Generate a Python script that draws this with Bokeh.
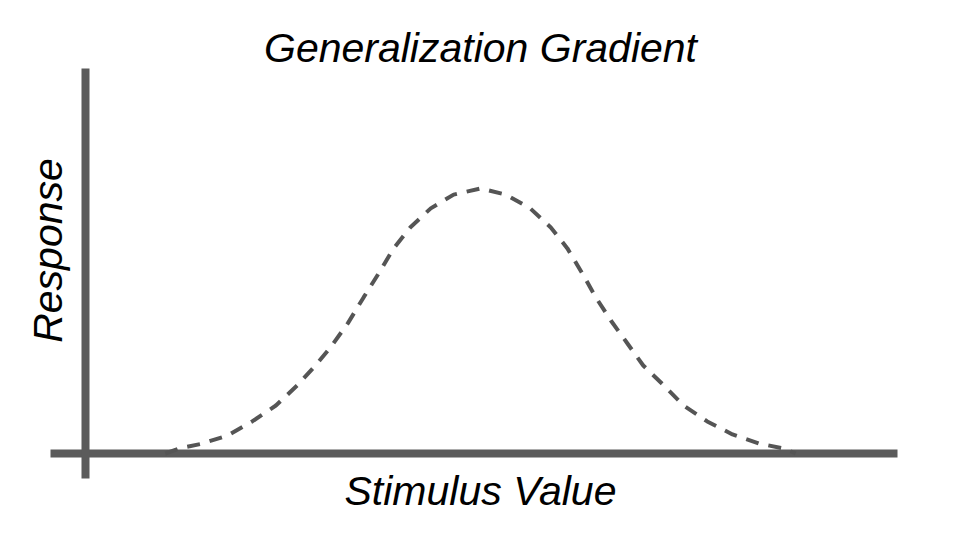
from bokeh.plotting import figure
from bokeh.models import Range1d, Label
from bokeh.embed import file_html
from bokeh.resources import INLINE

# Curve: stimulus value (0..100 scale) vs response (0..100)
stimulus = [10.1, 12.0, 14.6, 18.0, 21.1, 24.1, 26.8, 29.1, 31.0, 33.2, 35.2, 37.1,
            39.0, 41.1, 43.7, 46.6, 50.0, 53.2, 56.3, 58.9, 61.0, 62.9, 64.6, 66.5,
            68.6, 70.6, 73.2, 75.7, 78.7, 81.9, 85.2, 88.4, 89.9]
response = [0.0, 2.0, 3.6, 6.8, 12.1, 18.1, 25.7, 33.2, 40.0, 49.1, 58.9, 67.9,
            77.4, 85.3, 92.5, 97.7, 100.0, 97.7, 92.5, 85.3, 77.4, 67.9, 58.9, 50.2,
            41.5, 33.2, 25.7, 18.1, 12.1, 7.2, 3.8, 1.9, 0.0]

title_text = "Generalization Gradient"
x_label = "Stimulus Value"
y_label = "Response"

W, H = 960, 540
# pixel mapping: origin at (85, 453); stimulus 50 -> px 480; response 100 -> py 188
sx = 7.9
sy = 2.65
ox, oy = 85, 453

p = figure(width=W, height=H, output_backend="svg", toolbar_location=None,
           min_border=0, min_border_left=0, min_border_right=0,
           min_border_top=0, min_border_bottom=0,
           x_range=Range1d(-ox / sx, (W - ox) / sx),
           y_range=Range1d(-(H - oy) / sy, oy / sy))
p.axis.visible = False
p.grid.visible = False
p.outline_line_color = None
p.background_fill_color = "white"
p.border_fill_color = "white"

axis_color = "#5b5b5b"
# axis lines (cross at the origin)
p.segment(x0=[-(ox - 50) / sx], y0=[0], x1=[(897 - ox) / sx], y1=[0],
          line_color=axis_color, line_width=8)
p.segment(x0=[0], y0=[-(478 - oy) / sy], x1=[0], y1=[(oy - 68) / sy],
          line_color=axis_color, line_width=8)

p.line(stimulus, response, line_color="#555555", line_width=4, line_dash="13 10")

font = "Liberation Sans"
fs = "41px"
p.add_layout(Label(x=480, y=H - 47, x_units="screen", y_units="screen", text=title_text,
                   text_font=font, text_font_style="italic", text_font_size=fs,
                   text_align="center", text_baseline="alphabetic", text_color="black"))
p.add_layout(Label(x=480, y=H - 490, x_units="screen", y_units="screen", text=x_label,
                   text_font=font, text_font_style="italic", text_font_size=fs,
                   text_align="center", text_baseline="alphabetic", text_color="black"))
p.add_layout(Label(x=47, y=H - 250, x_units="screen", y_units="screen", text=y_label,
                   angle=90, angle_units="deg",
                   text_font=font, text_font_style="italic", text_font_size=fs,
                   text_align="center", text_baseline="alphabetic", text_color="black"))

open("out.html", "w").write(file_html(p, INLINE))
